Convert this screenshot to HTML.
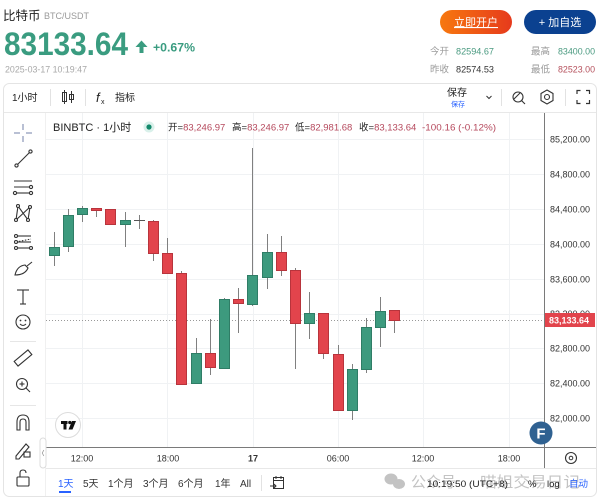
<!DOCTYPE html>
<html><head><meta charset="utf-8"><style>
html,body{margin:0;padding:0;background:#fff;width:600px;height:503px;overflow:hidden}
svg{display:block}
text{font-family:"Liberation Sans","Noto Sans CJK SC",sans-serif}
</style></head><body>
<svg width="600" height="503" viewBox="0 0 600 503" xmlns="http://www.w3.org/2000/svg">
<defs>
<linearGradient id="og" x1="0" x2="1" y1="0" y2="0"><stop offset="0" stop-color="#f7780f"/><stop offset="1" stop-color="#e63a1c"/></linearGradient>
</defs>
<rect width="600" height="503" fill="#fff"/>
<!-- header -->
<text x="3" y="20" font-size="12.5" fill="#222">比特币</text>
<text x="44" y="19" font-size="9" fill="#9a9a9a">BTC/USDT</text>
<text x="4" y="55" font-size="32" font-weight="bold" fill="#3a9c80" textLength="124" lengthAdjust="spacingAndGlyphs">83133.64</text>
<polygon points="141.5,40.5 135.5,47 139.5,47 139.5,53 143.5,53 143.5,47 147.5,47" fill="#3a9c80"/>
<text x="153" y="51.5" font-size="12" font-weight="bold" fill="#3a9c80" textLength="42" lengthAdjust="spacingAndGlyphs">+0.67%</text>
<text x="5" y="72.5" font-size="9" fill="#a8a8a8" textLength="82" lengthAdjust="spacingAndGlyphs">2025-03-17 10:19:47</text>
<rect x="440" y="10" width="72" height="24" rx="12" fill="url(#og)"/>
<text x="476" y="26" font-size="11" fill="#fff" text-anchor="middle" text-decoration="underline">立即开户</text>
<rect x="524" y="10" width="72" height="24" rx="12" fill="#0b4190"/>
<text x="560" y="26" font-size="11" fill="#fff" text-anchor="middle">+ 加自选</text>
<g font-size="9.5">
<text x="430" y="54.5" fill="#9a9a9a">今开</text>
<text x="456" y="54.5" fill="#4a9a80" textLength="38" lengthAdjust="spacingAndGlyphs">82594.67</text>
<text x="531" y="54.5" fill="#9a9a9a">最高</text>
<text x="558" y="54.5" fill="#4a9a80" textLength="37" lengthAdjust="spacingAndGlyphs">83400.00</text>
<text x="430" y="72.5" fill="#9a9a9a">昨收</text>
<text x="456" y="72.5" fill="#333" textLength="38" lengthAdjust="spacingAndGlyphs">82574.53</text>
<text x="531" y="72.5" fill="#9a9a9a">最低</text>
<text x="558" y="72.5" fill="#b5505c" textLength="37" lengthAdjust="spacingAndGlyphs">82523.00</text>
</g>
<!-- panel -->
<rect x="3.5" y="83.5" width="593" height="413" rx="6" fill="#fff" stroke="#e4e4e4"/>
<!-- top toolbar -->
<text x="12" y="101" font-size="10" fill="#222">1小时</text>
<line x1="50.5" y1="89" x2="50.5" y2="106" stroke="#e2e2e2"/>
<g stroke="#333" stroke-width="1" fill="none">
<line x1="64.5" y1="90" x2="64.5" y2="104"/><rect x="62.5" y="92.5" width="4" height="9"/>
<line x1="71.5" y1="91" x2="71.5" y2="103"/><rect x="69.5" y="94.5" width="4" height="5"/>
</g>
<line x1="85.5" y1="89" x2="85.5" y2="106" stroke="#e2e2e2"/>
<text x="96" y="102" font-size="13" font-style="italic" font-family="Liberation Serif,serif" fill="#222">f</text>
<text x="101" y="104" font-size="7" fill="#222">x</text>
<text x="115" y="101" font-size="10" fill="#222">指标</text>
<text x="447" y="96" font-size="10" fill="#222">保存</text>
<text x="451" y="106.5" font-size="7" fill="#2962ff">保存</text>
<polyline points="486.5,96 489,98.5 491.5,96" fill="none" stroke="#333"/>
<line x1="501.5" y1="89" x2="501.5" y2="106" stroke="#e2e2e2"/>
<g stroke="#333" stroke-width="1.1" fill="none">
<circle cx="518" cy="97" r="5"/><line x1="521.5" y1="100.5" x2="525" y2="104"/><line x1="514" y1="99" x2="520" y2="93"/>
<polygon points="547,90 553,93.5 553,100.5 547,104 541,100.5 541,93.5"/><circle cx="547" cy="97" r="2.5"/>
</g>
<line x1="565.5" y1="89" x2="565.5" y2="106" stroke="#e2e2e2"/>
<g stroke="#333" stroke-width="1.2" fill="none">
<polyline points="577,94 577,90.5 580.5,90.5"/><polyline points="586,90.5 589.5,90.5 589.5,94"/>
<polyline points="577,100 577,103.5 580.5,103.5"/><polyline points="586,103.5 589.5,103.5 589.5,100"/>
</g>
<line x1="4" y1="112.5" x2="596" y2="112.5" stroke="#e8e8e8"/>
<line x1="45.5" y1="113" x2="45.5" y2="496" stroke="#f0f0f0"/>
<!-- left toolbar icons -->
<g stroke="#8a96b8" stroke-width="1.2"><line x1="23" y1="124" x2="23" y2="130"/><line x1="23" y1="136" x2="23" y2="142"/><line x1="14" y1="133" x2="20" y2="133"/><line x1="26" y1="133" x2="32" y2="133"/></g>
<g stroke="#333" stroke-width="1.1" fill="#fff">
<line x1="17" y1="165" x2="30" y2="152"/><circle cx="16.5" cy="165.5" r="1.6"/><circle cx="30.5" cy="151.5" r="1.6"/>
<line x1="14" y1="181" x2="32" y2="181"/><line x1="14" y1="187" x2="32" y2="187"/><line x1="16" y1="193" x2="30" y2="193"/><circle cx="31" cy="187" r="1.6"/><circle cx="15" cy="193" r="1.6"/><circle cx="31" cy="193" r="1.6"/>
<polyline points="16,220 18,206 28,220 30,207 16,220" fill="none"/><circle cx="16" cy="220" r="1.5"/><circle cx="18" cy="206" r="1.5"/><circle cx="28" cy="220" r="1.5"/><circle cx="30" cy="207" r="1.5"/>
<line x1="16" y1="236" x2="31" y2="236"/><line x1="16" y1="242" x2="31" y2="239" stroke-dasharray="1.5,1.5"/><line x1="16" y1="248" x2="31" y2="248"/><line x1="16" y1="242" x2="31" y2="242"/><circle cx="16" cy="236" r="1.5"/><circle cx="16" cy="242" r="1.5"/><circle cx="16" cy="248" r="1.5"/><circle cx="31" cy="248" r="1.5"/>
<path d="M15,275 Q17,266 25,265 L28,268 Q25,275 15,275 Z" fill="none"/><line x1="27" y1="266" x2="32" y2="262"/>
<line x1="17" y1="290" x2="29" y2="290"/><line x1="23" y1="290" x2="23" y2="304"/><line x1="20" y1="304" x2="26" y2="304"/>
<circle cx="23" cy="322" r="7" fill="none"/>
</g>
<circle cx="20.5" cy="320.5" r="0.9" fill="#333"/><circle cx="25.5" cy="320.5" r="0.9" fill="#333"/>
<path d="M20,324 Q23,327 26,324" fill="none" stroke="#333" stroke-width="1"/>
<line x1="10" y1="341.5" x2="36" y2="341.5" stroke="#e6e6e6"/>
<g stroke="#333" stroke-width="1.1" fill="none">
<rect x="14" y="355" width="18" height="6" transform="rotate(-40 23 358)"/>
<circle cx="22" cy="384" r="5.5"/><line x1="26" y1="388" x2="30" y2="392"/><line x1="19.5" y1="384" x2="24.5" y2="384"/><line x1="22" y1="381.5" x2="22" y2="386.5"/>
</g>
<line x1="10" y1="405.5" x2="36" y2="405.5" stroke="#e6e6e6"/>
<g stroke="#333" stroke-width="1.1" fill="none">
<path d="M17,430 L17,422 Q17,415 23,415 Q29,415 29,422 L29,430 L26,430 L26,422 Q26,419 23,419 Q20,419 20,422 L20,430 Z"/>
<path d="M16,456 L26,444 L29,447 L19,459 L16,459 Z"/><rect x="24" y="452" width="6" height="5"/>
<rect x="17" y="477" width="12" height="9" rx="1"/><path d="M20,477 L20,473 Q20,470 23,470 Q26,470 26,473"/>
</g>
<!-- chart grid -->
<g stroke="#f0f2f4" stroke-width="1">
<line x1="46" y1="139.5" x2="544" y2="139.5"/><line x1="46" y1="174.5" x2="544" y2="174.5"/><line x1="46" y1="209.5" x2="544" y2="209.5"/><line x1="46" y1="244.5" x2="544" y2="244.5"/><line x1="46" y1="279.5" x2="544" y2="279.5"/><line x1="46" y1="314.5" x2="544" y2="314.5"/><line x1="46" y1="348.5" x2="544" y2="348.5"/><line x1="46" y1="383.5" x2="544" y2="383.5"/><line x1="46" y1="418.5" x2="544" y2="418.5"/>
<line x1="82.5" y1="113" x2="82.5" y2="447"/><line x1="167.5" y1="113" x2="167.5" y2="447"/><line x1="253.5" y1="113" x2="253.5" y2="447"/><line x1="338.5" y1="113" x2="338.5" y2="447"/><line x1="423.5" y1="113" x2="423.5" y2="447"/><line x1="509.5" y1="113" x2="509.5" y2="447"/>
</g>
<line x1="46" y1="320.5" x2="544" y2="320.5" stroke="#999" stroke-dasharray="1,2"/>
<!-- legend -->
<text x="53" y="131" font-size="11" fill="#222">BINBTC · 1小时</text>
<circle cx="149" cy="127" r="5.5" fill="#d9f0ea"/><circle cx="149" cy="127" r="2.6" fill="#13896b"/>
<g font-size="9.5">
<text x="168" y="130.5"><tspan fill="#222">开=</tspan><tspan fill="#b5485c">83,246.97</tspan></text>
<text x="232" y="130.5"><tspan fill="#222">高=</tspan><tspan fill="#b5485c">83,246.97</tspan></text>
<text x="295" y="130.5"><tspan fill="#222">低=</tspan><tspan fill="#b5485c">82,981.68</tspan></text>
<text x="359" y="130.5"><tspan fill="#222">收=</tspan><tspan fill="#b5485c">83,133.64</tspan></text>
<text x="422" y="130.5" fill="#b5485c" textLength="74" lengthAdjust="spacingAndGlyphs">-100.16 (-0.12%)</text>
</g>
<!-- candles -->
<g stroke="#808080" stroke-width="1">
<line x1="54.5" y1="232" x2="54.5" y2="266"/><line x1="68.5" y1="209" x2="68.5" y2="252"/><line x1="82.5" y1="206" x2="82.5" y2="222"/><line x1="96.5" y1="208" x2="96.5" y2="217"/><line x1="110.5" y1="209" x2="110.5" y2="224"/><line x1="125.5" y1="212" x2="125.5" y2="247"/><line x1="139.5" y1="215" x2="139.5" y2="229"/><line x1="153.5" y1="220" x2="153.5" y2="261"/><line x1="167.5" y1="238" x2="167.5" y2="273"/><line x1="181.5" y1="271" x2="181.5" y2="385"/><line x1="196.5" y1="338" x2="196.5" y2="384"/><line x1="210.5" y1="319" x2="210.5" y2="375"/><line x1="224.5" y1="298" x2="224.5" y2="368"/><line x1="238.5" y1="288" x2="238.5" y2="333"/><line x1="252.5" y1="148" x2="252.5" y2="306"/><line x1="267.5" y1="234" x2="267.5" y2="289"/><line x1="281.5" y1="236" x2="281.5" y2="276"/><line x1="295.5" y1="268" x2="295.5" y2="369"/><line x1="309.5" y1="292" x2="309.5" y2="339"/><line x1="323.5" y1="313" x2="323.5" y2="359"/><line x1="338.5" y1="345" x2="338.5" y2="411"/><line x1="352.5" y1="364" x2="352.5" y2="420"/><line x1="366.5" y1="318" x2="366.5" y2="373"/><line x1="380.5" y1="297" x2="380.5" y2="347"/><line x1="394.5" y1="310" x2="394.5" y2="333"/>
<line x1="134" y1="220.5" x2="145" y2="220.5" stroke="#555"/>
</g>
<g fill="#3d9a7e" stroke="#2f7d66" stroke-width="1">
<rect x="49.5" y="247.5" width="10" height="8"/><rect x="63.5" y="215.5" width="10" height="31"/><rect x="77.5" y="208.5" width="10" height="6"/><rect x="120.5" y="220.5" width="10" height="4"/><rect x="191.5" y="353.5" width="10" height="30"/><rect x="219.5" y="299.5" width="10" height="69"/><rect x="247.5" y="275.5" width="10" height="29"/><rect x="262.5" y="252.5" width="10" height="25"/><rect x="304.5" y="313.5" width="10" height="10"/><rect x="347.5" y="369.5" width="10" height="41"/><rect x="361.5" y="327.5" width="10" height="42"/><rect x="375.5" y="311.5" width="10" height="16"/>
</g>
<g fill="#e2444c" stroke="#b8343c" stroke-width="1">
<rect x="91.5" y="208.5" width="10" height="2"/><rect x="105.5" y="209.5" width="10" height="15"/><rect x="148.5" y="221.5" width="10" height="32"/><rect x="162.5" y="253.5" width="10" height="20"/><rect x="176.5" y="273.5" width="10" height="111"/><rect x="205.5" y="353.5" width="10" height="14"/><rect x="233.5" y="299.5" width="10" height="4"/><rect x="276.5" y="252.5" width="10" height="18"/><rect x="290.5" y="270.5" width="10" height="53"/><rect x="318.5" y="313.5" width="10" height="40"/><rect x="333.5" y="354.5" width="10" height="56"/><rect x="389.5" y="310.5" width="10" height="10"/>
</g>
<!-- axes -->
<line x1="544.5" y1="113" x2="544.5" y2="468" stroke="#7a7a7a"/>
<line x1="46" y1="447.5" x2="596" y2="447.5" stroke="#7a7a7a"/>
<line x1="46" y1="468.5" x2="596" y2="468.5" stroke="#e8e8e8"/>
<g font-size="9" fill="#333">
<text x="550" y="142.5">85,200.00</text><text x="550" y="177.5">84,800.00</text><text x="550" y="212.5">84,400.00</text><text x="550" y="247.5">84,000.00</text><text x="550" y="282.5">83,600.00</text><text x="550" y="317">83,200.00</text><text x="550" y="351.5">82,800.00</text><text x="550" y="386.5">82,400.00</text><text x="550" y="421.5">82,000.00</text>
</g>
<rect x="545" y="313" width="50" height="14" fill="#e2444c"/>
<text x="549" y="323.5" font-size="9" font-weight="bold" fill="#fff">83,133.64</text>
<circle cx="541" cy="433" r="11.5" fill="#2f6191"/>
<text x="541" y="438.5" font-size="15" font-weight="bold" fill="#fff" text-anchor="middle">F</text>
<circle cx="68" cy="425" r="12.5" fill="#fff" stroke="#dcdcdc"/>
<g fill="#111"><rect x="61" y="421" width="6.5" height="3"/><rect x="63.5" y="421" width="3" height="8.5"/><circle cx="69.8" cy="422.5" r="1.6"/><polygon points="72,421 76,421 72.5,429.5 68.5,429.5"/></g>
<rect x="40" y="438" width="6" height="30" rx="3" fill="#fff" stroke="#dcdcdc"/>
<polyline points="43.8,450 42.3,453 43.8,456" fill="none" stroke="#999" stroke-width="0.8"/>
<g font-size="9" fill="#333" text-anchor="middle">
<text x="82" y="461.5">12:00</text><text x="168" y="461.5">18:00</text><text x="253" y="461.5" font-weight="bold">17</text><text x="338" y="461.5">06:00</text><text x="423" y="461.5">12:00</text><text x="509" y="461.5">18:00</text>
</g>
<circle cx="571" cy="458" r="5.5" fill="none" stroke="#333" stroke-width="1.1"/><circle cx="571" cy="458" r="1.8" fill="none" stroke="#333" stroke-width="1"/>
<!-- bottom bar -->
<g font-size="10" fill="#333">
<text x="58" y="487" fill="#2962ff">1天</text>
<text x="83" y="487">5天</text><text x="108" y="487">1个月</text><text x="143" y="487">3个月</text><text x="178" y="487">6个月</text><text x="215" y="487">1年</text><text x="240" y="487">All</text>
</g>
<rect x="59" y="491" width="12" height="2" fill="#2962ff"/>
<line x1="261.5" y1="475" x2="261.5" y2="491" stroke="#e2e2e2"/>
<g stroke="#333" stroke-width="1" fill="none"><rect x="273.5" y="477.5" width="10" height="11"/><line x1="273.5" y1="480.5" x2="283.5" y2="480.5"/><line x1="276" y1="476" x2="276" y2="479"/><line x1="281" y1="476" x2="281" y2="479"/><line x1="270" y1="486" x2="276" y2="486"/><polyline points="274,484 276,486 274,488"/></g>
<!-- watermark -->
<g opacity="0.5" fill="#888">
<ellipse cx="391" cy="479" rx="6.5" ry="5.5"/><ellipse cx="399" cy="484" rx="6" ry="5"/>
<text x="411" y="487" font-size="15">公众号</text>
<text x="468" y="487" font-size="15">·</text>
<text x="480" y="487" font-size="15" textLength="100" lengthAdjust="spacingAndGlyphs">喵姐交易日记</text>
</g>
<text x="427" y="487" font-size="9.5" fill="#222" textLength="81" lengthAdjust="spacingAndGlyphs">10:19:50 (UTC+8)</text>
<text x="528" y="487" font-size="9.5" fill="#222">%</text>
<text x="547" y="487" font-size="9.5" fill="#222">log</text>
<text x="569" y="487" font-size="9.5" fill="#2962ff">自动</text>
</svg>
</body></html>
